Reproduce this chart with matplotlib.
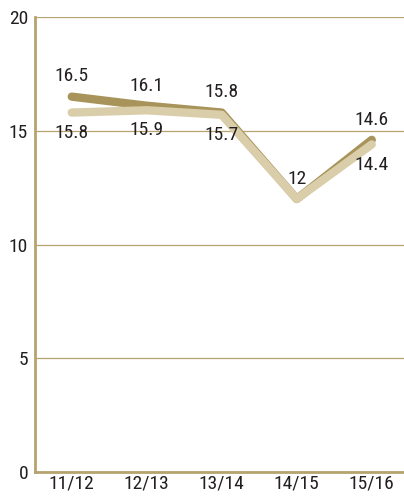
import matplotlib
matplotlib.use("Agg")
import matplotlib.pyplot as plt
from matplotlib import font_manager

categories = ["11/12", "12/13", "13/14", "14/15", "15/16"]
series_dark = [16.5, 16.1, 15.8, 12, 14.6]
series_light = [15.8, 15.9, 15.7, 12, 14.4]
yticks = [0, 5, 10, 15, 20]

names = {f.name for f in font_manager.fontManager.ttflist}
cands = ["Liberation Sans Narrow", "Roboto Condensed", "DejaVu Sans Condensed",
         "Open Sans Condensed", "Roboto"]
chosen = next((c for c in cands if c in names), "DejaVu Sans")
plt.rcParams['font.family'] = [chosen, "DejaVu Sans"]
plt.rcParams['font.stretch'] = 'condensed'

gold = "#B5A46F"
dark = "#A8945A"
light = "#D9CDAA"
txt = "#231F20"
fs = 14

fig = plt.figure(figsize=(4.04, 4.96), dpi=100)
ax = fig.add_axes([35/404, 24/496, 1 - 35/404, (472-17)/496])

x = list(range(len(categories)))
ax.plot(x, series_dark, color=dark, lw=6, solid_capstyle='round', solid_joinstyle='round', zorder=3)
ax.plot(x, series_light, color=light, lw=6, solid_capstyle='round', solid_joinstyle='round', zorder=4)

for i, v in enumerate(series_dark):
    ax.annotate(f"{v:g}", (i, v), xytext=(0, 14.5), textcoords="offset points",
                ha="center", va="center", fontsize=fs, color=txt, zorder=5)
for i, v in enumerate(series_light):
    if v == series_dark[i]:
        continue
    ax.annotate(f"{v:g}", (i, v), xytext=(0, -14.5), textcoords="offset points",
                ha="center", va="center", fontsize=fs, color=txt, zorder=5)

ax.set_xlim(-0.49, 4.43)
ax.set_ylim(0, 20)
ax.set_yticks(yticks)
ax.set_xticks(x)
ax.set_xticklabels(categories)
ax.yaxis.grid(True, color=gold, lw=0.9)
ax.set_axisbelow(True)
for s in ["top", "right"]:
    ax.spines[s].set_visible(False)
for s in ["left", "bottom"]:
    ax.spines[s].set_color(gold)
    ax.spines[s].set_linewidth(2)
ax.tick_params(length=0, labelsize=fs, colors=txt)
ax.tick_params(axis='x', pad=2)
ax.tick_params(axis='y', pad=5)

fig.savefig("out.png", dpi=100)
